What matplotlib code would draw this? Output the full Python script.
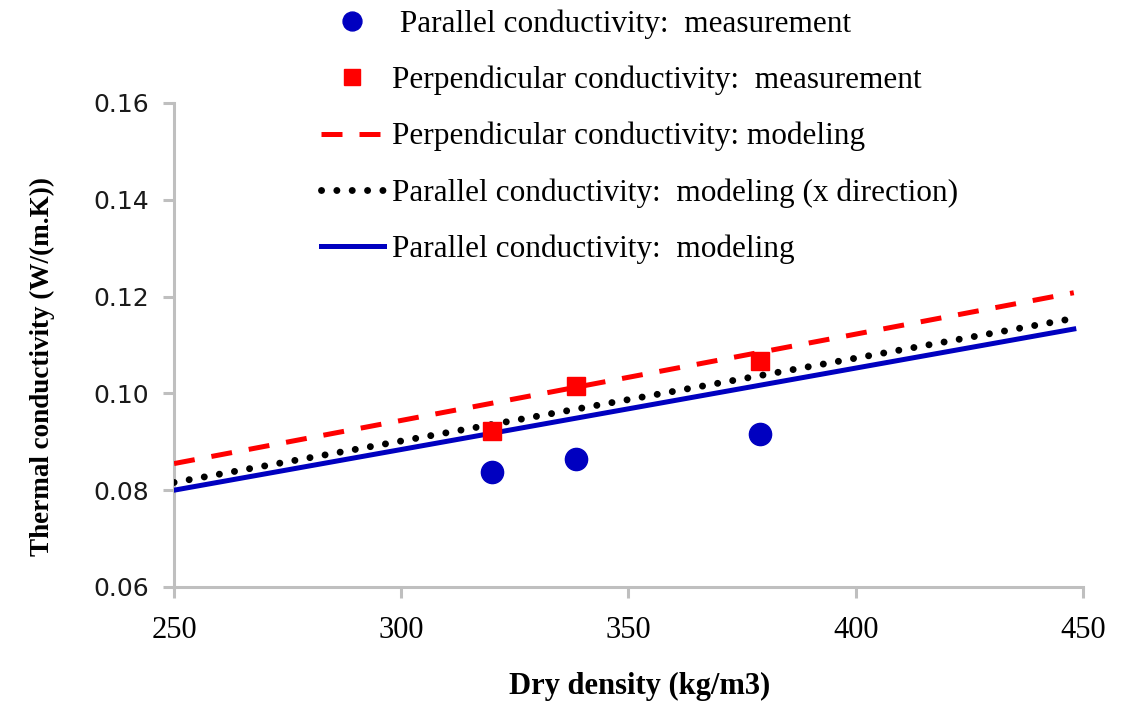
import matplotlib
matplotlib.use("Agg")
import matplotlib.pyplot as plt

# Measurements
density_meas = [320, 338.5, 379]
parallel_meas = [0.0838, 0.0865, 0.0916]
perpendicular_meas = [0.0922, 0.1016, 0.1067]

# Modeling lines (straight lines, endpoints)
density_model = [250, 448]
perp_model = [0.0855, 0.1208]
par_x_model = [0.0816, 0.1155]
par_model = [0.0800, 0.1133]

xticks = [250, 300, 350, 400, 450]
yticks = [0.06, 0.08, 0.10, 0.12, 0.14, 0.16]

fig = plt.figure(figsize=(11.28, 7.04), dpi=100)
ax = fig.add_axes([0.1543, 0.1662, 0.8057, 0.6875])

serif = ["Liberation Serif", "DejaVu Serif"]
grey = "#bfbfbf"

h1, = ax.plot(density_meas, parallel_meas, "o", color="#0000c0", markersize=16,
              linestyle="none", label=" Parallel conductivity:  measurement", zorder=5)
h2, = ax.plot(density_meas, perpendicular_meas, "s", color="#ff0000", markersize=13,
              linestyle="none", label="Perpendicular conductivity:  measurement", zorder=5)
h3, = ax.plot(density_model, perp_model, color="#ff0000", lw=3.6, dashes=(4.2, 3.4),
              label="Perpendicular conductivity: modeling", zorder=3)
h4, = ax.plot(density_model, par_x_model, color="black", lw=5.0,
              linestyle=(0, (0.01, 2.2)), dash_capstyle="round",
              label="Parallel conductivity:  modeling (x direction)", zorder=3)
h5, = ax.plot(density_model, par_model, color="#0000c0", lw=3.6,
              label="Parallel conductivity:  modeling", zorder=4)

ax.set_xlim(250, 450)
ax.set_ylim(0.06, 0.16)
ax.set_xticks(xticks)
ax.set_yticks(yticks)
ax.set_xticklabels([str(t) for t in xticks], fontfamily=serif, fontsize=22)
ax.set_yticklabels([f"{t:.2f}" for t in yticks], fontfamily="DejaVu Sans", fontsize=18,
                   color="#1a1a1a")

for s in ["top", "right"]:
    ax.spines[s].set_visible(False)
for s in ["left", "bottom"]:
    ax.spines[s].set_color(grey)
    ax.spines[s].set_linewidth(2.2)
ax.tick_params(axis="both", direction="out", length=8, width=2.2, color=grey)
ax.tick_params(axis="x", pad=13)
ax.tick_params(axis="y", pad=10)

ax.set_xlabel("Dry density (kg/m3)", fontfamily=serif, fontsize=22, fontweight="bold")
ax.xaxis.set_label_coords(0.5127, -0.175)
ax.set_ylabel("Thermal conductivity (W/(m.K))", fontfamily=serif, fontsize=19.5, fontweight="bold")
ax.yaxis.set_label_coords(-0.131, 0.455)

leg = fig.legend(handles=[h1, h2, h3, h4, h5], loc="upper left",
                 bbox_to_anchor=(0.2846, 0.986), frameon=False,
                 prop={"family": serif, "size": 22.5}, handlelength=2.0,
                 labelspacing=0.85, handletextpad=0.26, borderaxespad=0.0,
                 borderpad=0.0, markerscale=0.85)

fig.savefig("out.png", dpi=100)
